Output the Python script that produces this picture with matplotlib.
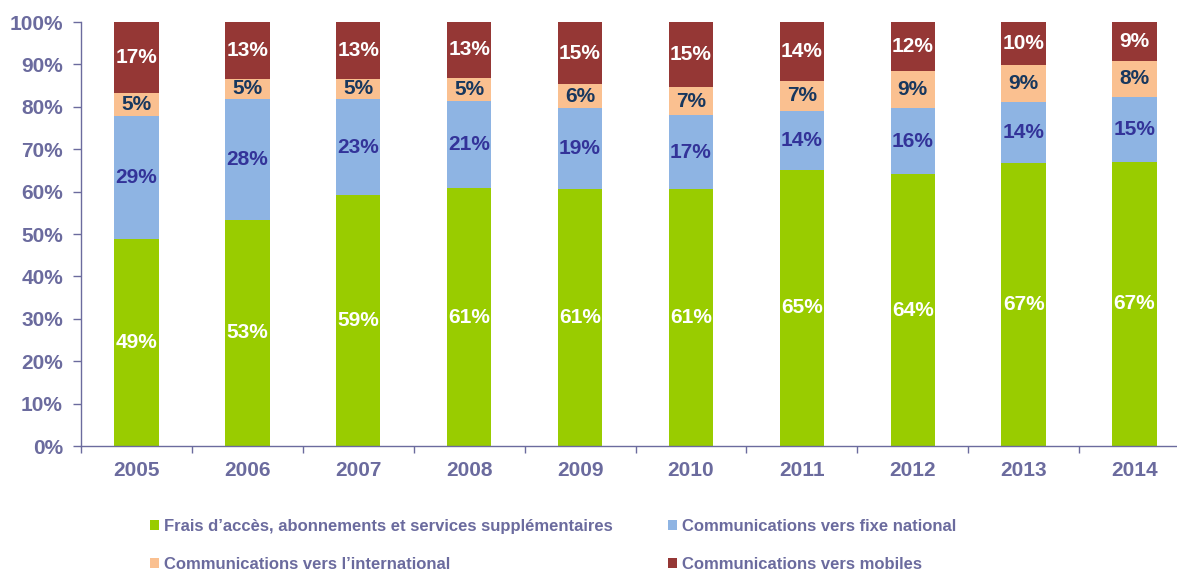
import matplotlib
matplotlib.use("Agg")
import matplotlib.pyplot as plt
import numpy as np

years = ["2005", "2006", "2007", "2008", "2009", "2010", "2011", "2012", "2013", "2014"]
series_names = [
    "Frais d\u2019acc\u00e8s, abonnements et services suppl\u00e9mentaires",
    "Communications vers fixe national",
    "Communications vers l\u2019international",
    "Communications vers mobiles",
]
frais = [48.8, 53.4, 59.1, 60.8, 60.7, 60.6, 65.1, 64.1, 66.8, 67.0]
fixe = [29.0, 28.4, 22.7, 20.6, 18.9, 17.4, 14.0, 15.6, 14.4, 15.4]
international = [5.4, 4.8, 4.8, 5.4, 5.7, 6.7, 7.1, 8.7, 8.7, 8.4]
mobiles = [16.8, 13.4, 13.4, 13.2, 14.7, 15.3, 13.8, 11.6, 10.1, 9.2]

colors = ["#99CC00", "#8EB4E3", "#FAC090", "#953735"]
label_colors = ["white", "#333399", "#17375E", "white"]
axis_color = "#6B6B9E"

plt.rcParams["font.family"] = ["Liberation Sans", "DejaVu Sans"]
plt.rcParams["font.weight"] = "bold"

fig = plt.figure(figsize=(11.77, 5.71), dpi=100)
W, H = 1177, 571
ax = fig.add_axes([81 / W, 1 - 446 / H, 1109 / W, 424 / H])

x = np.arange(len(years))
bottom = np.zeros(len(years))
containers = []
for vals, col, lc in zip([frais, fixe, international, mobiles], colors, label_colors):
    vals = np.array(vals)
    bc = ax.bar(x, vals, 0.40, bottom=bottom, color=col, edgecolor="none")
    containers.append(bc)
    for xi, b, v in zip(x, bottom, vals):
        ax.text(xi, b + v / 2, f"{int(round(v))}%", ha="center", va="center",
                color=lc, fontsize=15, fontweight="bold")
    bottom = bottom + vals

ax.set_xlim(-0.5, len(years) - 0.5)
ax.set_ylim(0, 100)
ax.set_yticks(np.arange(0, 101, 10))
ax.set_yticklabels([f"{v}%" for v in range(0, 101, 10)])
ax.set_xticks(x)
ax.set_xticklabels(years)
ax.set_xticks(np.arange(-0.5, len(years), 1.0), minor=True)
ax.tick_params(axis="x", which="major", length=0, pad=11, labelsize=15, labelcolor=axis_color)
ax.tick_params(axis="x", which="minor", length=5, width=1, color=axis_color)
ax.tick_params(axis="y", length=6, width=1, color=axis_color, labelsize=15, labelcolor=axis_color, pad=7)
for lab in ax.get_xticklabels() + ax.get_yticklabels():
    lab.set_fontweight("bold")
for s in ["top", "right"]:
    ax.spines[s].set_visible(False)
for s in ["left", "bottom"]:
    ax.spines[s].set_color(axis_color)
    ax.spines[s].set_linewidth(1)

handles = [containers[0], containers[2], containers[1], containers[3]]
labels = [series_names[0], series_names[2], series_names[1], series_names[3]]
leg = fig.legend(handles, labels, ncol=2, loc="upper left",
                 bbox_to_anchor=(150 / W, 1 - 519 / H), frameon=False,
                 prop={"size": 12, "weight": "bold"},
                 handlelength=0.55, handleheight=0.55, handletextpad=0.3,
                 columnspacing=3.3, labelspacing=1.4, borderaxespad=0, borderpad=0)
for t in leg.get_texts():
    t.set_color(axis_color)

fig.savefig("out.png", dpi=100)
